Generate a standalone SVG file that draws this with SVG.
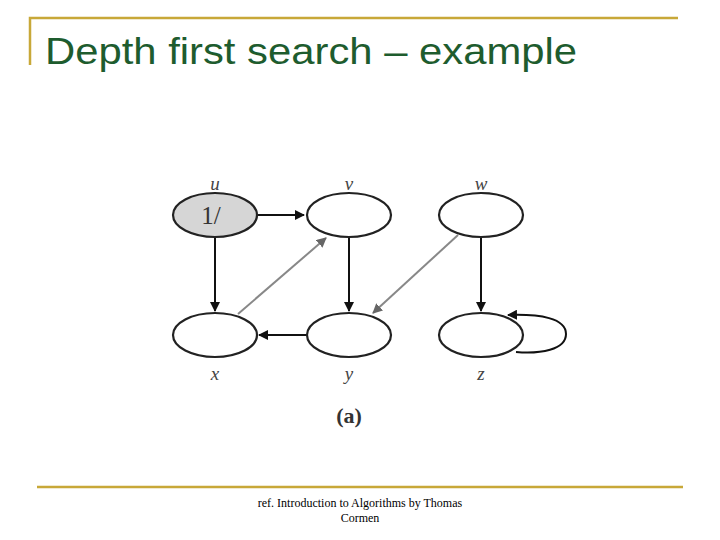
<svg xmlns="http://www.w3.org/2000/svg" width="720" height="540" viewBox="0 0 720 540">
<style>
.n{fill:#fff;stroke:#222;stroke-width:2.2}
.e{stroke:#111;stroke-width:2;fill:none}
.g{stroke:#888;stroke-width:2;fill:none}
.lb{font-family:"Liberation Serif",serif;font-style:italic;font-size:19px;fill:#444;text-anchor:middle}
</style>
<defs>
<marker id="a" viewBox="0 0 10 10" refX="9" refY="5" markerWidth="5" markerHeight="5" orient="auto"><path d="M0,0L10,5L0,10z" fill="#111"/></marker>
<marker id="b" viewBox="0 0 10 10" refX="9" refY="5" markerWidth="5" markerHeight="5" orient="auto"><path d="M0,0L10,5L0,10z" fill="#666"/></marker>
</defs>
<rect width="720" height="540" fill="#fff"/>
<path d="M30,65V18H678" stroke="#c8a838" stroke-width="2.5" fill="none"/>
<path d="M37,487H683" stroke="#c8a838" stroke-width="2.5"/>
<text x="45" y="64" font-family="Liberation Sans,sans-serif" font-size="37" textLength="532" lengthAdjust="spacingAndGlyphs" fill="#1e5c2e">Depth first search – example</text>
<g id="edges">
<line class="e" x1="257" y1="215" x2="304" y2="215" marker-end="url(#a)"/>
<line class="e" x1="215" y1="237" x2="215" y2="311" marker-end="url(#a)"/>
<line class="e" x1="349" y1="237" x2="349" y2="311" marker-end="url(#a)"/>
<line class="e" x1="481" y1="237" x2="481" y2="311" marker-end="url(#a)"/>
<line class="e" x1="307" y1="335" x2="259" y2="335" marker-end="url(#a)"/>
<line class="g" x1="238" y1="314" x2="326" y2="238" marker-end="url(#b)"/>
<line class="g" x1="458" y1="235" x2="373" y2="313" marker-end="url(#b)"/>
<path class="e" d="M516,352C540,354 566,350 566,334C566,318 540,314 508,315" marker-end="url(#a)"/>
</g>
<g id="u"><ellipse class="n" cx="215" cy="215" rx="42" ry="22" style="fill:#d6d6d6"/><text x="211" y="224" font-family="Liberation Serif,serif" font-size="25" fill="#333" text-anchor="middle">1/</text><text class="lb" x="215" y="190">u</text></g>
<g id="v"><ellipse class="n" cx="349" cy="215" rx="42" ry="22"/><text class="lb" x="349" y="190">v</text></g>
<g id="w"><ellipse class="n" cx="481" cy="215" rx="42" ry="22"/><text class="lb" x="481" y="190">w</text></g>
<g id="x"><ellipse class="n" cx="215" cy="335" rx="42" ry="22"/><text class="lb" x="215" y="380">x</text></g>
<g id="y"><ellipse class="n" cx="349" cy="335" rx="42" ry="22"/><text class="lb" x="349" y="380">y</text></g>
<g id="z"><ellipse class="n" cx="481" cy="335" rx="42" ry="22"/><text class="lb" x="481" y="380">z</text></g>
<text x="349" y="423" font-family="Liberation Serif,serif" font-size="22" font-weight="bold" fill="#333" text-anchor="middle">(a)</text>
<text x="360" y="507" font-family="Liberation Serif,serif" font-size="12" text-anchor="middle">ref. Introduction to Algorithms by Thomas</text>
<text x="360" y="522" font-family="Liberation Serif,serif" font-size="12" text-anchor="middle">Cormen</text>
</svg>
